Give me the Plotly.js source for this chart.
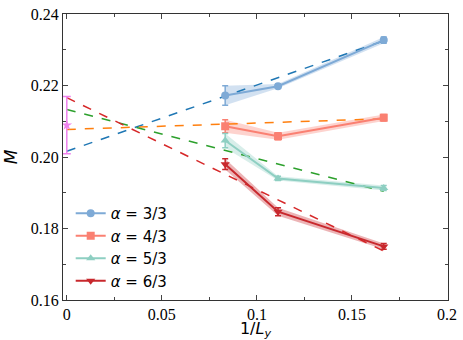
<!DOCTYPE html>
<html>
<head>
<meta charset="utf-8">
<script src="https://cdn.plot.ly/plotly-3.0.1.min.js"></script>
<style>body{margin:0;padding:0;} #plot{width:463px;height:340px;}</style>
</head>
<body>
<div id="plot"></div>
<script>
// 1/Ly values for Ly = 12, 9, 6
let inv_ly = [0.0833, 0.1111, 0.1667]
let labels = ["<i>α</i> = 3/3", "<i>α</i> = 4/3", "<i>α</i> = 5/3", "<i>α</i> = 6/3"]

// M values and errors for each alpha
let m_a33 = [0.2172, 0.2198, 0.2327]
let e_a33 = [0.0027, 0.0006, 0.0009]
let m_a43 = [0.2086, 0.2058, 0.2110]
let e_a43 = [0.0018, 0.0010, 0.0009]
let m_a53 = [0.2046, 0.1940, 0.1913]
let e_a53 = [0.0020, 0.0006, 0.0007]
let m_a63 = [0.1980, 0.1847, 0.1750]
let e_a63 = [0.0015, 0.0011, 0.0008]

// linear fits, values at x = 0 and x = 1/6
let fit_x = [0, 0.1667]
let fit_a33 = [0.2016, 0.2325]
let fit_a43 = [0.2077, 0.2107]
let fit_a53 = [0.2133, 0.1904]
let fit_a63 = [0.2166, 0.1737]

// extrapolated point at 1/Ly = 0
let extrap_x = [0]
let extrap_m = [0.2089]
let extrap_e = [0.0080]

let series = [
  {m: m_a33, e: e_a33, fit: fit_a33, color: "#7eaad6", fitcolor: "#1f77b4", band: "rgba(126,170,214,0.35)", symbol: "circle"},
  {m: m_a43, e: e_a43, fit: fit_a43, color: "#fa8072", fitcolor: "#ff7f0e", band: "rgba(250,128,114,0.35)", symbol: "square"},
  {m: m_a53, e: e_a53, fit: fit_a53, color: "#8ecfc2", fitcolor: "#2ca02c", band: "rgba(142,207,194,0.35)", symbol: "triangle-up"},
  {m: m_a63, e: e_a63, fit: fit_a63, color: "#c8282d", fitcolor: "#d62728", band: "rgba(200,40,45,0.35)", symbol: "triangle-down"}
]

let data = []

// shaded bands
series.forEach(function(s) {
  let upper = s.m.map(function(v, i) { return v + s.e[i] })
  let lower = s.m.map(function(v, i) { return v - s.e[i] })
  data.push({
    x: inv_ly.concat(inv_ly.slice().reverse()),
    y: upper.concat(lower.slice().reverse()),
    type: "scatter",
    mode: "lines",
    fill: "toself",
    fillcolor: s.band,
    line: {width: 0},
    showlegend: false,
    hoverinfo: "skip"
  })
})

// dashed fits
series.forEach(function(s) {
  data.push({
    x: fit_x,
    y: s.fit,
    type: "scatter",
    mode: "lines",
    line: {color: s.fitcolor, width: 1.5, dash: "dash"},
    showlegend: false
  })
})

// data with error bars
series.forEach(function(s, k) {
  data.push({
    x: inv_ly,
    y: s.m,
    name: labels[k],
    type: "scatter",
    mode: "lines+markers",
    line: {color: s.color, width: 2},
    marker: {color: s.color, symbol: s.symbol, size: 8},
    error_y: {type: "data", array: s.e, color: s.color, thickness: 1.5, width: 3}
  })
})

data.push({
  x: extrap_x,
  y: extrap_m,
  type: "scatter",
  mode: "markers",
  marker: {color: "#ee82ee", symbol: "star", size: 8},
  error_y: {type: "data", array: extrap_e, color: "#ee82ee", thickness: 1.5, width: 4},
  showlegend: false
})

let layout = {
  width: 463,
  height: 340,
  margin: {l: 63, r: 15, t: 14, b: 40},
  paper_bgcolor: "white",
  plot_bgcolor: "white",
  showlegend: true,
  legend: {
    x: 0.02, y: 0.36, xanchor: "left", yanchor: "top",
    font: {family: "DejaVu Sans", size: 15, color: "black"},
    bgcolor: "rgba(0,0,0,0)", tracegroupgap: 0
  },
  xaxis: {
    range: [-0.002, 0.2005],
    tickvals: [0, 0.05, 0.1, 0.15, 0.2],
    ticks: "inside", ticklen: 5, mirror: "ticks",
    showline: true, linecolor: "#333", linewidth: 1,
    showgrid: false, zeroline: false,
    minor: {tickvals: [0.025, 0.075, 0.125, 0.175], ticks: "inside", ticklen: 3},
    tickfont: {family: "Liberation Serif", size: 16, color: "black"},
    title: {text: "1/<i>L<sub>y</sub></i>", font: {family: "DejaVu Sans", size: 16, color: "black"}, standoff: 2}
  },
  yaxis: {
    range: [0.16, 0.24],
    dtick: 0.02,
    tickformat: ".2f",
    ticks: "inside", ticklen: 5, mirror: "ticks",
    showline: true, linecolor: "#333", linewidth: 1,
    showgrid: false, zeroline: false,
    minor: {dtick: 0.01, ticks: "inside", ticklen: 3},
    tickfont: {family: "Liberation Serif", size: 16, color: "black"},
    title: {text: "<i>M</i>", font: {family: "DejaVu Sans", size: 17, color: "black"}, standoff: 8}
  }
}

Plotly.newPlot("plot", data, layout, {displayModeBar: false})
</script>
</body>
</html>
